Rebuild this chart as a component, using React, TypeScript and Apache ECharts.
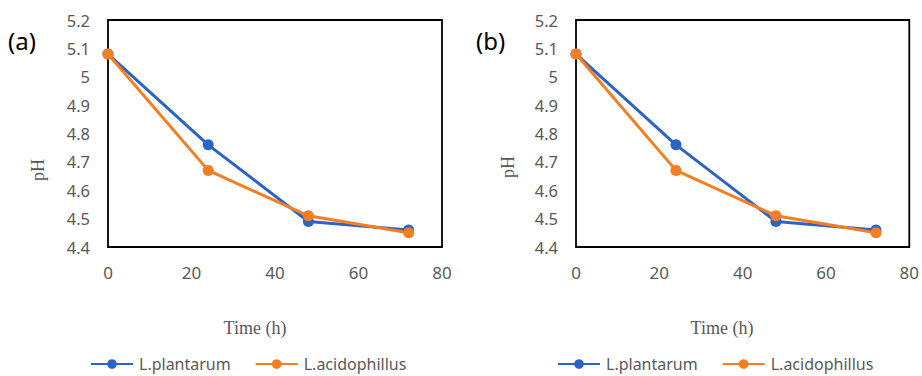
import React, { useEffect, useRef } from "react";
import * as echarts from "echarts";

const times = [0, 24, 48, 72];
const plantarumA = [5.08, 4.76, 4.49, 4.46];
const acidophillusA = [5.08, 4.67, 4.51, 4.45];
const plantarumB = [5.08, 4.76, 4.49, 4.46];
const acidophillusB = [5.08, 4.67, 4.51, 4.45];
const seriesNames = ["L.plantarum", "L.acidophillus"];
const panelLabels = ["(a)", "(b)"];
const xName = "Time (h)";
const yName = "pH";

const BLUE = "#2B63C6";
const ORANGE = "#F57D22";
const GRAY = "#595959";
const SANS = "Noto Sans";
const SERIF = "Liberation Serif";

const pairs = (ys: number[]) => times.map((t, i) => [t, ys[i]]);

export default function App() {
  const ref = useRef<HTMLDivElement>(null);
  useEffect(() => {
    document.body.style.margin = "0";
    if (!ref.current) return;
    const chart = echarts.init(ref.current, null, { renderer: "svg" });
    const grids = [
      { left: 108, right: 480, top: 20, bottom: 129 },
      { left: 576, right: 12, top: 20, bottom: 129 },
    ];
    const lineSeries = (name: string, data: number[], color: string, idx: number) => ({
      type: "line",
      name,
      xAxisIndex: idx,
      yAxisIndex: idx,
      data: pairs(data),
      symbol: "circle",
      symbolSize: 11,
      lineStyle: { color, width: 3 },
      itemStyle: { color },
    });
    const legendBase = {
      itemWidth: 42,
      itemHeight: 12,
      itemGap: 24,
      padding: 0,
      textStyle: { color: GRAY, fontFamily: SANS, fontSize: 16, padding: [0, 0, 0, 1] },
      data: seriesNames,
    };
    chart.setOption({
      animation: false,
      grid: grids.map((g) => ({
        ...g,
        show: true,
        borderColor: "#000",
        borderWidth: 1.8,
        backgroundColor: "transparent",
      })),
      xAxis: [0, 1].map((i) => ({
        type: "value",
        gridIndex: i,
        min: 0,
        max: 80,
        interval: 20,
        axisLine: { show: false },
        axisTick: { show: false },
        splitLine: { show: false },
        axisLabel: { color: GRAY, fontFamily: SANS, fontSize: 17, margin: 17 },
      })),
      yAxis: [0, 1].map((i) => ({
        type: "value",
        gridIndex: i,
        min: 4.4,
        max: 5.2,
        interval: 0.1,
        axisLine: { show: false },
        axisTick: { show: false },
        splitLine: { show: false },
        axisLabel: {
          color: GRAY,
          fontFamily: SANS,
          fontSize: 16.5,
          margin: 18,
          formatter: (v: number) => String(Math.round(v * 10) / 10),
        },
      })),
      legend: [
        { ...legendBase, left: 90, top: 356 },
        { ...legendBase, left: 557, top: 356 },
      ],
      series: [
        lineSeries(seriesNames[0], plantarumA, BLUE, 0),
        lineSeries(seriesNames[1], acidophillusA, ORANGE, 0),
        lineSeries(seriesNames[0], plantarumB, BLUE, 1),
        lineSeries(seriesNames[1], acidophillusB, ORANGE, 1),
      ],
      graphic: [
        { type: "text", left: 8, top: 28, style: { text: panelLabels[0], fontFamily: SANS, fontSize: 24, fill: "#000" } },
        { type: "text", left: 476, top: 28, style: { text: panelLabels[1], fontFamily: SANS, fontSize: 24, fill: "#000" } },
        { type: "text", x: 38, y: 170, rotation: Math.PI / 2, style: { text: yName, fontFamily: SERIF, fontSize: 18, fill: GRAY, align: "center", verticalAlign: "middle" } },
        { type: "text", x: 508, y: 167, rotation: Math.PI / 2, style: { text: yName, fontFamily: SERIF, fontSize: 18, fill: GRAY, align: "center", verticalAlign: "middle" } },
        { type: "text", x: 255, y: 328, style: { text: xName, fontFamily: SERIF, fontSize: 18, fill: GRAY, align: "center", verticalAlign: "middle" } },
        { type: "text", x: 722, y: 328, style: { text: xName, fontFamily: SERIF, fontSize: 18, fill: GRAY, align: "center", verticalAlign: "middle" } },
      ],
    });
    return () => chart.dispose();
  }, []);
  return <div ref={ref} style={{ width: 922, height: 376 }} />;
}
